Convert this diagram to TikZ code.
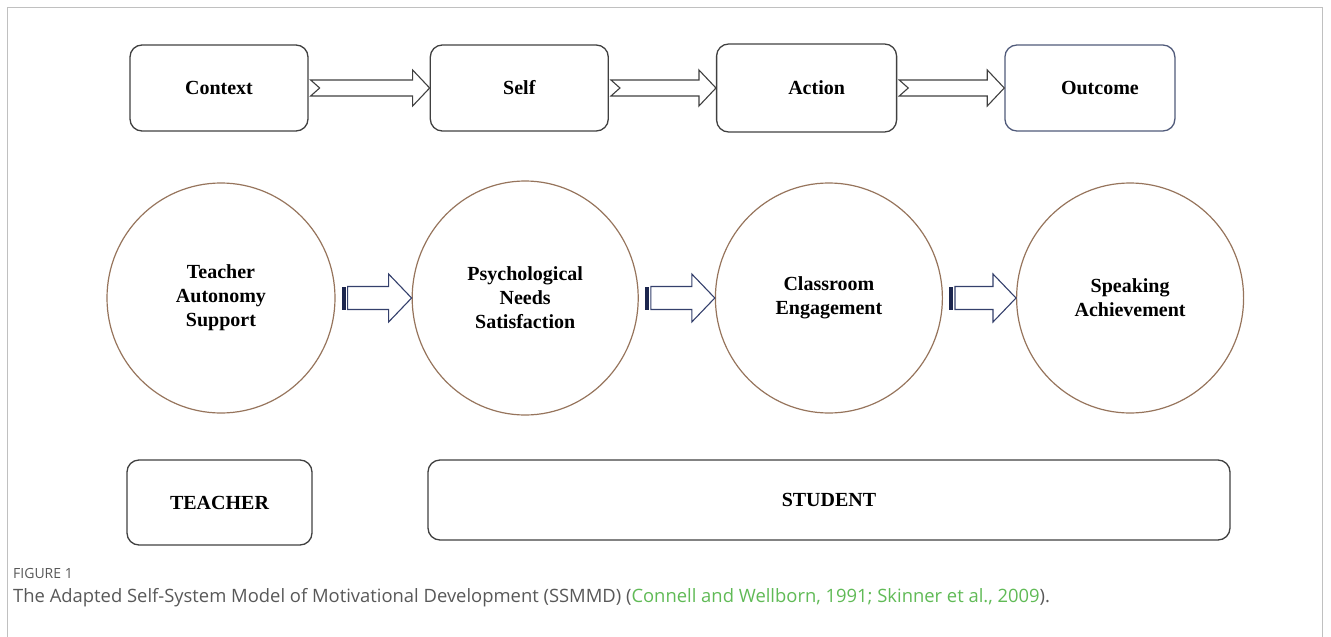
\documentclass[tikz,border=0pt]{standalone}
\usepackage{fontspec}
\setmainfont{Liberation Serif}
\newfontfamily\captionfont{Open Sans}
\usetikzlibrary{
    positioning,      % relative placement of the boxes and circles
    shapes.geometric, % ellipse nodes
    calc              % let-syntax for the block arrows
}

\definecolor{box_gray}{RGB}{64,64,64}
\definecolor{outcome_slate}{RGB}{80,90,122}
\definecolor{circle_brown}{RGB}{150,116,92}
\definecolor{arrow_navy}{RGB}{52,64,108}
\definecolor{bar_navy}{RGB}{28,38,78}
\definecolor{frame_gray}{RGB}{192,192,192}
\definecolor{caption_gray}{RGB}{88,88,88}
\definecolor{cite_green}{RGB}{96,186,86}

% hollow block arrow with a notched tail (top row)
\newcommand{\notcharrow}[2]{%
  \draw[notch_arrow] let \p1=(#1.east), \p2=(#2.west) in
    (\x1+2pt,\y1+8pt) -- (\x2-17pt,\y1+8pt) -- (\x2-17pt,\y1+18pt) -- (\x2,\y1)
    -- (\x2-17pt,\y1-18pt) -- (\x2-17pt,\y1-8pt) -- (\x1+2pt,\y1-8pt)
    -- (\x1+11pt,\y1) -- cycle;}

% hollow block arrow with a striped tail (circle row)
\newcommand{\stripearrow}[2]{%
  \fill[bar_navy] let \p1=(#1.east) in (\x1+6pt,\y1+11.5pt) rectangle (\x1+10pt,\y1-11.5pt);
  \draw[stripe_arrow] let \p1=(#1.east), \p2=(#2.west) in
    (\x1+12pt,\y1+11.5pt) -- (\x2-23pt,\y1+11.5pt) -- (\x2-23pt,\y1+24pt) -- (\x2,\y1)
    -- (\x2-23pt,\y1-24pt) -- (\x2-23pt,\y1-11.5pt) -- (\x1+12pt,\y1-11.5pt) -- cycle;}

\begin{document}
\begin{tikzpicture}[
    x=1pt, y=-1pt,
    % Style for the rounded boxes
    box_style/.style={
        draw=box_gray,
        line width=1.3pt,
        rounded corners=12pt,
        minimum width=178pt,
        minimum height=86pt,
        inner sep=0pt,
        font=\bfseries\fontsize{20}{24}\selectfont
    },
    % Style for the big circles
    circle_style/.style={
        ellipse,
        draw=circle_brown,
        line width=1.2pt,
        minimum width=227pt,
        minimum height=230pt,
        inner sep=0pt,
        align=center,
        font=\bfseries\fontsize{20}{24}\selectfont
    },
    % Styles for the block arrows
    notch_arrow/.style={draw=box_gray, line width=1.1pt, fill=white},
    stripe_arrow/.style={draw=arrow_navy, line width=1.1pt, fill=white},
    % Style for the caption lines
    caption_style/.style={
        anchor=west,
        inner sep=0pt,
        text=caption_gray
    }
]
    \useasboundingbox (0,0) rectangle (1331,637);
    \draw[frame_gray, line width=1pt] (7,637) -- (7,7) -- (1322,7) -- (1322,637);

    % 1. Top row: the four stages.
    \node[box_style] (context) at (219,88) {Context};
    \node[box_style, right=121pt of context] (self) {Self};
    \node[box_style, right=107pt of self, minimum width=180pt, minimum height=88pt] (action) {\hspace*{20pt}Action};
    \node[box_style, draw=outcome_slate, right=107pt of action, minimum width=170pt] (outcome) {\hspace*{20pt}Outcome};

    % 2. Middle row: the constructs.
    \node[circle_style, minimum width=228pt] (autonomy) at (221,298) {Teacher\\Autonomy\\Support};
    \node[circle_style, right=76pt of autonomy, minimum width=226pt, minimum height=234pt] (needs) {Psychological\\Needs\\Satisfaction};
    \node[circle_style, right=76pt of needs] (engagement) {Classroom\\Engagement};
    \node[circle_style, right=73pt of engagement] (achievement) {Speaking\\Achievement};

    % 3. Bottom row: who is involved.
    \node[box_style, minimum width=185pt, minimum height=85pt] (teacher) at (219.5,502.5) {TEACHER};
    \node[box_style, minimum width=802pt, minimum height=80pt] (student) at (829,500) {STUDENT};

    % 4. Block arrows.
    \notcharrow{context}{self}
    \notcharrow{self}{action}
    \notcharrow{action}{outcome}

    \stripearrow{autonomy}{needs}
    \stripearrow{needs}{engagement}
    \stripearrow{engagement}{achievement}

    % 5. Caption.
    \node[caption_style, font=\captionfont\fontsize{14}{16}\selectfont] (fig_label) at (13,573) {FIGURE 1};
    \node[caption_style, font=\captionfont\fontsize{18.4}{22}\selectfont] (fig_caption) at (13,598)
        {The Adapted Self-System Model of Motivational Development (SSMMD) (\textcolor{cite_green}{Connell and Wellborn, 1991; Skinner et al., 2009}).};
\end{tikzpicture}
\end{document}
